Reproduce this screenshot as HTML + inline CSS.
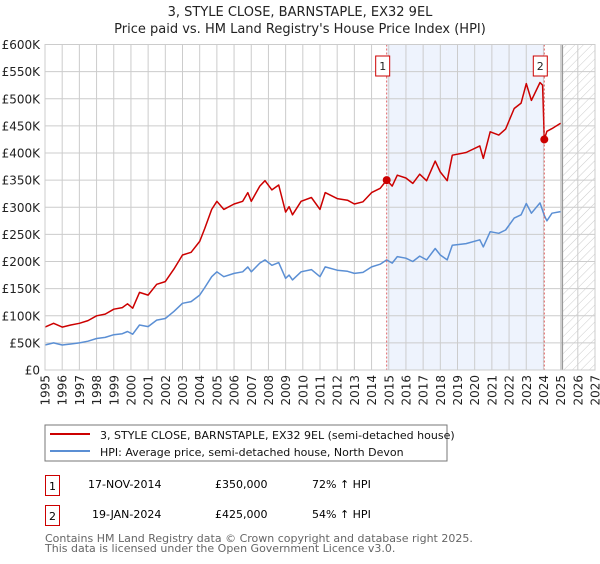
<!DOCTYPE html>
<html><head><meta charset="utf-8"><style>
body{margin:0;background:#fff;font-family:"DejaVu Sans","Liberation Sans",sans-serif;}
svg text{font-family:"DejaVu Sans","Liberation Sans",sans-serif;}
</style></head><body>
<svg id="chart" width="600" height="560" viewBox="0 0 600 560">
<defs><pattern id="hatch" width="6" height="6" patternUnits="userSpaceOnUse" patternTransform="rotate(45)"><line x1="0" y1="0" x2="0" y2="6" stroke="#ccc" stroke-width="1"/></pattern></defs>
<text x="300" y="16" text-anchor="middle" font-size="13" fill="#222">3, STYLE CLOSE, BARNSTAPLE, EX32 9EL</text>
<text x="300" y="33" text-anchor="middle" font-size="13" fill="#222">Price paid vs. HM Land Registry's House Price Index (HPI)</text>
<g id="plot"></g>
<rect x="45" y="425" width="402" height="36" fill="#fff" stroke="#777"/>
<line x1="50" y1="434" x2="90" y2="434" stroke="#cc0000" stroke-width="2"/>
<text x="100" y="439" font-size="11" fill="#111">3, STYLE CLOSE, BARNSTAPLE, EX32 9EL (semi-detached house)</text>
<line x1="50" y1="451" x2="90" y2="451" stroke="#5b8fd4" stroke-width="2"/>
<text x="100" y="456" font-size="11" fill="#111">HPI: Average price, semi-detached house, North Devon</text>
<g>
<rect x="45.5" y="475.5" width="14" height="20" fill="#fff" stroke="#cc0000"/>
<text x="52.5" y="490" text-anchor="middle" font-size="11">1</text>
<text x="88" y="488" font-size="11">17-NOV-2014</text>
<text x="215" y="488" font-size="11">£350,000</text>
<text x="312" y="488" font-size="11">72% ↑ HPI</text></g>
<g>
<rect x="45.5" y="505.5" width="14" height="20" fill="#fff" stroke="#cc0000"/>
<text x="52.5" y="520" text-anchor="middle" font-size="11">2</text>
<text x="92" y="518" font-size="11">19-JAN-2024</text>
<text x="215" y="518" font-size="11">£425,000</text>
<text x="312" y="518" font-size="11">54% ↑ HPI</text></g>
<text x="45" y="542" font-size="11" fill="#666">Contains HM Land Registry data © Crown copyright and database right 2025.</text>
<text x="45" y="552" font-size="11" fill="#666">This data is licensed under the Open Government Licence v3.0.</text>
</svg>
<script>
const hpiDates=[1995.0,1995.5,1996.0,1996.5,1997.0,1997.5,1998.0,1998.5,1999.0,1999.5,1999.8,2000.1,2000.5,2001.0,2001.5,2002.0,2002.5,2003.0,2003.5,2004.0,2004.3,2004.7,2005.0,2005.4,2006.0,2006.5,2006.8,2007.0,2007.5,2007.8,2008.2,2008.6,2009.0,2009.2,2009.4,2009.9,2010.5,2011.0,2011.3,2012.0,2012.6,2013.0,2013.5,2014.0,2014.5,2014.88,2015.2,2015.5,2016.0,2016.4,2016.8,2017.2,2017.7,2018.0,2018.4,2018.7,2019.5,2020.3,2020.5,2020.9,2021.4,2021.8,2022.3,2022.7,2023.0,2023.3,2023.8,2024.05,2024.2,2024.5,2025.0];
const hpiValues=[46,50,46,48,50,53,58,60,65,67,71,66,83,80,92,95,108,123,126,138,152,172,181,172,178,181,190,181,197,203,193,198,169,175,166,181,185,172,190,184,182,178,180,190,195,203,197,209,206,200,210,203,224,212,203,230,233,240,227,255,252,258,280,286,307,289,308,285,275,289,292];
const propDates=[1995.0,1995.5,1996.0,1996.5,1997.0,1997.5,1998.0,1998.5,1999.0,1999.5,1999.8,2000.1,2000.5,2001.0,2001.5,2002.0,2002.5,2003.0,2003.5,2004.0,2004.3,2004.7,2005.0,2005.4,2006.0,2006.5,2006.8,2007.0,2007.5,2007.8,2008.2,2008.6,2009.0,2009.2,2009.4,2009.9,2010.5,2011.0,2011.3,2012.0,2012.6,2013.0,2013.5,2014.0,2014.5,2014.88,2015.2,2015.5,2016.0,2016.4,2016.8,2017.2,2017.7,2018.0,2018.4,2018.7,2019.5,2020.3,2020.5,2020.9,2021.4,2021.8,2022.3,2022.7,2023.0,2023.3,2023.8,2023.95,2024.05,2024.2,2024.5,2025.0];
const propValues=[79,86,79,83,86,91,100,103,112,115,122,114,143,138,158,163,186,212,217,237,261,296,311,296,306,311,327,311,339,349,332,341,291,301,286,311,318,296,327,316,313,306,310,327,335,350,339,359,354,344,361,349,385,365,349,396,401,413,390,439,433,444,482,492,528,497,530,525,425,440,445,455];
const saleDates=[2014.88,2024.05];
const saleValues=[350,425];
const saleLabels=["1","2"];
const yTicks=[0,50,100,150,200,250,300,350,400,450,500,550,600];
const yTickLabels=["£0","£50K","£100K","£150K","£200K","£250K","£300K","£350K","£400K","£450K","£500K","£550K","£600K"];
const xYears=[1995,1996,1997,1998,1999,2000,2001,2002,2003,2004,2005,2006,2007,2008,2009,2010,2011,2012,2013,2014,2015,2016,2017,2018,2019,2020,2021,2022,2023,2024,2025,2026,2027];

const L=45,R=595,T=44.5,B=370,X0=1995,X1=2027,YMAX=600;
const xs=v=>L+(v-X0)/(X1-X0)*(R-L);
const ys=v=>B-v/YMAX*(B-T);
const NS='http://www.w3.org/2000/svg';
const g=document.getElementById('plot');
function mk(tag,attrs,parent){const e=document.createElementNS(NS,tag);for(const k in attrs)e.setAttribute(k,attrs[k]);(parent||g).appendChild(e);return e;}

let e=mk('rect',{x:xs(saleDates[0]),y:T,width:xs(saleDates[1])-xs(saleDates[0]),height:B-T,fill:'#eef3fd'});


e=mk('rect',{x:xs(2025.1),y:T,width:R-xs(2025.1),height:B-T,fill:'url(#hatch)'});



xYears.forEach((yr,i)=>{
  const l=mk('line',{x1:xs(yr),x2:xs(yr),y1:T,y2:B,stroke:'#ccc','stroke-width':1});
  
  
  const t=mk('text',{x:0,y:0,'font-size':12,fill:'#222','text-anchor':'end',transform:`translate(${xs(yr)+4.5},${B+5}) rotate(-90)`});
  t.textContent=yr;
  
  
});
yTicks.forEach((v,i)=>{
  const l=mk('line',{x1:L,x2:R,y1:ys(v),y2:ys(v),stroke:'#ccc','stroke-width':1});
  
  
  const t=mk('text',{x:L-5,y:ys(v)+4.5,'font-size':12,fill:'#222','text-anchor':'end'});
  t.textContent=yTickLabels[i];
  
  
});
e=mk('line',{x1:xs(2025.1),x2:xs(2025.1),y1:T,y2:B,stroke:'#999','stroke-width':1.5});



function pts(d,v){return d.map((x,i)=>xs(x).toFixed(1)+','+ys(v[i]).toFixed(1)).join(' ');}
e=mk('polyline',{points:pts(hpiDates,hpiValues),fill:'none',stroke:'#5b8fd4','stroke-width':1.5,'stroke-linejoin':'round'});


e=mk('polyline',{points:pts(propDates,propValues),fill:'none',stroke:'#cc0000','stroke-width':1.5,'stroke-linejoin':'round'});



saleDates.forEach((d,i)=>{
  const l=mk('line',{x1:xs(d),x2:xs(d),y1:T,y2:B,stroke:'#e06060','stroke-width':1,'stroke-dasharray':'2,2'});
  
  
  const c=mk('circle',{cx:xs(d),cy:ys(saleValues[i]),r:4,fill:'#cc0000'});
  
  
  const r=mk('rect',{x:xs(d)-11,y:56,width:14,height:20,fill:'#fff',stroke:'#cc0000'});
  
  
  const t=mk('text',{x:xs(d)-4,y:70,'font-size':11,'text-anchor':'middle',fill:'#222'});
  t.textContent=saleLabels[i];
  
  
});
e=mk('rect',{x:L,y:T,width:R-L,height:B-T,fill:'none',stroke:'#ccc'});


</script>
</body></html>
